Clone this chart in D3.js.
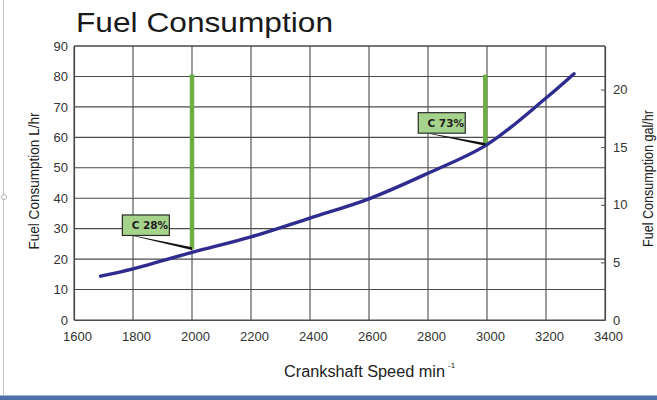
<!DOCTYPE html>
<html>
<head>
<meta charset="utf-8">
<script src="https://cdn.jsdelivr.net/npm/d3@7"></script>
<style>
  html, body { margin: 0; padding: 0; background: #fff; }
  svg { display: block; }
</style>
</head>
<body>
<svg id="chart" width="657" height="400"></svg>
<script>
// ---- data ----
const speedTicks = [1600, 1800, 2000, 2200, 2400, 2600, 2800, 3000, 3200, 3400];
const litreTicks = [0, 10, 20, 30, 40, 50, 60, 70, 80, 90];
const gallonTicks = [0, 5, 10, 15, 20];
const curveSpeed = [1690, 1800, 2000, 2200, 2400, 2600, 2800, 3000, 3200, 3295];
const curveFuel  = [14.4, 16.8, 22.2, 27.3, 33.5, 39.8, 48.2, 57.6, 72.9, 80.9];
const annotLabels = ["C 28%", "C 73%"];
const annotSpeed  = [2000, 2994];
const annotTop    = [80.6, 80.6];
const annotBottom = [23.2, 57.4];
const boxSpeed    = [1764, 2767];
const boxFuel     = [34.5, 68.1];
const LITRES_PER_GALLON = 3.785;

// ---- layout ----
const L = 74, R = 605, T = 46, B = 320;
const svg = d3.select("#chart");

const x = d3.scaleLinear().domain([1600, 3400]).range([L, R]);
const y = d3.scaleLinear().domain([0, 90]).range([B, T]);
const y2 = d3.scaleLinear().domain([0, 90 / LITRES_PER_GALLON]).range([B, T]);

// frame artifacts
svg.append("line").attr("x1", 3.5).attr("x2", 3.5).attr("y1", 0).attr("y2", 396)
  .attr("stroke", "#c8c8c8").attr("stroke-width", 1);
svg.append("circle").attr("cx", 4).attr("cy", 197).attr("r", 2.5)
  .attr("fill", "#fff").attr("stroke", "#999").attr("stroke-width", 0.8);
svg.append("rect").attr("x", 0).attr("y", 396).attr("width", 657).attr("height", 4)
  .attr("fill", "#4f6fa6");
svg.append("rect").attr("x", 0).attr("y", 395).attr("width", 657).attr("height", 1)
  .attr("fill", "#9fb3d3");

// title
svg.append("text").attr("x", 76).attr("y", 32)
  .attr("font-family", "Liberation Sans, Arial, sans-serif")
  .attr("font-size", 28).attr("fill", "#1a1a1a")
  .attr("textLength", 257).attr("lengthAdjust", "spacingAndGlyphs")
  .text("Fuel Consumption");

const gridColor = "#4a4a4a";

// grid
svg.append("g").selectAll("line").data(speedTicks).join("line")
  .attr("x1", d => x(d)).attr("x2", d => x(d)).attr("y1", T).attr("y2", B)
  .attr("stroke", gridColor).attr("stroke-width", 1.1);
svg.append("g").selectAll("line").data(litreTicks).join("line")
  .attr("x1", L).attr("x2", R).attr("y1", d => y(d)).attr("y2", d => y(d))
  .attr("stroke", gridColor).attr("stroke-width", 1.1);

// axes
const tickFont = "Liberation Sans, Arial, sans-serif";
const ax = svg.append("g").attr("transform", `translate(0,${B})`)
  .call(d3.axisBottom(x).tickValues(speedTicks).tickSize(0).tickPadding(12).tickFormat(d3.format("d")));
const ay = svg.append("g").attr("transform", `translate(${L},0)`)
  .call(d3.axisLeft(y).tickValues(litreTicks).tickSize(0).tickPadding(6));
const ay2 = svg.append("g").attr("transform", `translate(${R},0)`)
  .call(d3.axisRight(y2).tickValues(gallonTicks).tickSizeInner(-4).tickSizeOuter(0).tickPadding(8));
[ax, ay, ay2].forEach(g => {
  g.select(".domain").attr("stroke", gridColor).attr("stroke-width", 1.2);
  g.selectAll(".tick line").attr("stroke", gridColor);
  g.selectAll("text").attr("font-family", tickFont).attr("font-size", 13).attr("fill", "#333");
});
ax.selectAll("text").attr("dx", 3);

// top border
svg.append("line").attr("x1", L).attr("x2", R).attr("y1", T).attr("y2", T)
  .attr("stroke", gridColor).attr("stroke-width", 1.2);

// axis titles
const narrow = "'Liberation Sans Narrow', 'Arial Narrow', 'Liberation Sans', Arial, sans-serif";
svg.append("text").attr("transform", "translate(39,181) rotate(-90)")
  .attr("text-anchor", "middle").attr("font-family", narrow).attr("font-size", 15.5).attr("fill", "#222")
  .attr("textLength", 137).attr("lengthAdjust", "spacingAndGlyphs")
  .text("Fuel Consumption L/hr");
svg.append("text").attr("transform", "translate(653,178.5) rotate(-90)")
  .attr("text-anchor", "middle").attr("font-family", narrow).attr("font-size", 15).attr("fill", "#222")
  .attr("textLength", 137).attr("lengthAdjust", "spacingAndGlyphs")
  .text("Fuel Consumption gal/hr");
svg.append("text").attr("x", 284).attr("y", 377)
  .attr("font-family", narrow).attr("font-size", 16).attr("fill", "#222")
  .attr("textLength", 161).attr("lengthAdjust", "spacingAndGlyphs")
  .text("Crankshaft Speed min");
svg.append("text").attr("x", 448).attr("y", 368)
  .attr("font-family", narrow).attr("font-size", 8).attr("fill", "#222")
  .text("-1");

// green markers
svg.append("g").selectAll("line").data(annotSpeed).join("line")
  .attr("x1", d => x(d)).attr("x2", d => x(d))
  .attr("y1", (d, i) => y(annotTop[i])).attr("y2", (d, i) => y(annotBottom[i]))
  .attr("stroke", "#6fae45").attr("stroke-width", 4.5);

// curve
const pts = curveSpeed.map((s, i) => [s, curveFuel[i]]);
svg.append("path").datum(pts)
  .attr("d", d3.line().x(d => x(d[0])).y(d => y(d[1])).curve(d3.curveCatmullRom))
  .attr("fill", "none").attr("stroke", "#2e2d8f").attr("stroke-width", 3.4)
  .attr("stroke-linecap", "round");

// callouts
const boxW = 47, boxH = 20.5;
annotLabels.forEach((lab, i) => {
  const bx = x(boxSpeed[i]), by = y(boxFuel[i]);
  const tx = x(annotSpeed[i]), ty = y(annotBottom[i]);
  const sx = bx + 11, sy = by + boxH;
  svg.append("polygon")
    .attr("points", [[sx, sy], [tx, ty - 2.2], [tx, ty + 0.6], [sx, sy + 0.6]].map(p => p.join(",")).join(" "))
    .attr("fill", "#111");
  svg.append("rect").attr("x", bx).attr("y", by).attr("width", boxW).attr("height", boxH)
    .attr("fill", "#a6d38c").attr("stroke", "#2b2b2b").attr("stroke-width", 1.2);
  svg.append("text").attr("x", bx + boxW / 2 + 4).attr("y", by + boxH / 2 + 4)
    .attr("text-anchor", "middle").attr("font-family", "DejaVu Sans, sans-serif")
    .attr("font-size", 10.5).attr("font-weight", "bold").attr("fill", "#1e1e1e")
    .text(lab);
});
</script>
</body>
</html>
